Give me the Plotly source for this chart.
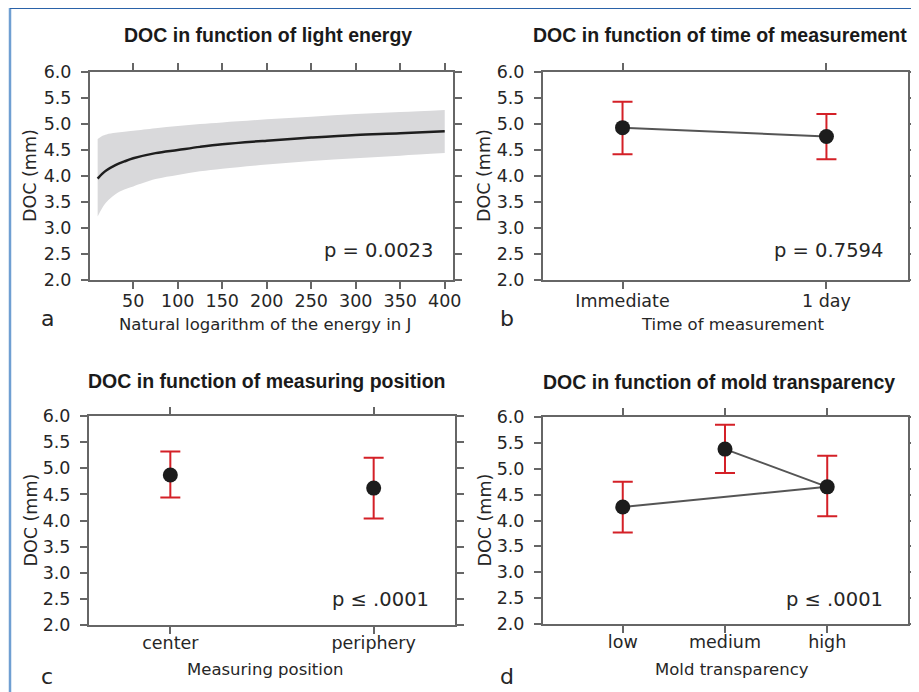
import plotly.graph_objects as go

# page offset (browser body margin) compensation
OFF = 8
W, H = 919 - OFF, 692 - OFF

# ---- data ----
energy = [10, 15, 20, 30, 40, 50, 75, 100, 125, 150, 200, 250, 300, 350, 400]
doc_fit = [3.95, 4.04, 4.11, 4.21, 4.28, 4.34, 4.44, 4.50, 4.56, 4.61, 4.68, 4.74, 4.79, 4.82, 4.86]
doc_upper = [4.71, 4.77, 4.80, 4.83, 4.85, 4.87, 4.92, 4.96, 5.00, 5.03, 5.09, 5.14, 5.19, 5.23, 5.27]
doc_lower = [3.22, 3.38, 3.50, 3.65, 3.74, 3.80, 3.94, 4.02, 4.09, 4.14, 4.22, 4.29, 4.34, 4.39, 4.44]

time_cats = ["Immediate", "1 day"]
time_mean = [4.93, 4.76]
time_hi = [5.43, 5.19]
time_lo = [4.42, 4.32]

pos_cats = ["center", "periphery"]
pos_mean = [4.87, 4.62]
pos_hi = [5.32, 5.20]
pos_lo = [4.44, 4.04]

mold_order = ["low", "medium", "high"]
mold_plot_cats = ["low", "high", "medium"]
mold_mean = [4.26, 4.65, 5.38]
mold_hi = [4.75, 5.25, 5.85]
mold_lo = [3.77, 4.08, 4.92]

titles = ["DOC in function of light energy", "DOC in function of time of measurement",
          "DOC in function of measuring position", "DOC in function of mold transparency"]
xtitles = ["Natural logarithm of the energy in J", "Time of measurement",
           "Measuring position", "Mold transparency"]
pvals = ["p = 0.0023", "p = 0.7594", "p ≤ .0001", "p ≤ .0001"]
letters = ["a", "b", "c", "d"]


# ---- layout geometry (reference pixels) ----
def px_x(x):
    return (x - OFF) / W


def px_y(y):
    return 1 - (y - OFF) / H


panels = {
    1: dict(x0=90, x1=453, y0=72, y1=280),
    2: dict(x0=543, x1=908, y0=72, y1=280),
    3: dict(x0=89, x1=455, y0=416, y1=625),
    4: dict(x0=543, x1=908, y0=417, y1=624),
}

fig = go.Figure()

ERR = "#d42027"
DOT = "#1c1c1c"
LINE = "#555555"

# panel a
fig.add_trace(go.Scatter(x=energy, y=doc_upper, mode="lines", line=dict(width=0, shape="spline", smoothing=1.0),
                         xaxis="x", yaxis="y", showlegend=False, hoverinfo="skip"))
fig.add_trace(go.Scatter(x=energy, y=doc_lower, mode="lines", line=dict(width=0, shape="spline", smoothing=1.0),
                         fill="tonexty", fillcolor="#d9d9db",
                         xaxis="x", yaxis="y", showlegend=False, hoverinfo="skip"))
fig.add_trace(go.Scatter(x=energy, y=doc_fit, mode="lines",
                         line=dict(color="#1e1e1e", width=2.5, shape="spline", smoothing=1.0),
                         xaxis="x", yaxis="y", showlegend=False))


def err_trace(cats, mean, hi, lo, ax, mode):
    return go.Scatter(
        x=cats, y=mean, mode=mode,
        line=dict(color=LINE, width=2),
        marker=dict(color=DOT, size=15),
        error_y=dict(type="data", symmetric=False,
                     array=[h - m for h, m in zip(hi, mean)],
                     arrayminus=[m - l for m, l in zip(mean, lo)],
                     color=ERR, thickness=2, width=10),
        xaxis="x" + ax, yaxis="y" + ax, showlegend=False)


fig.add_trace(err_trace(time_cats, time_mean, time_hi, time_lo, "2", "lines+markers"))
fig.add_trace(err_trace(pos_cats, pos_mean, pos_hi, pos_lo, "3", "markers"))
fig.add_trace(err_trace(mold_plot_cats, mold_mean, mold_hi, mold_lo, "4", "lines+markers"))

AX = "#666666"
common = dict(showline=True, linecolor=AX, linewidth=2, mirror="allticks", ticks="outside",
              ticklen=7, tickwidth=1.5, tickcolor=AX, showgrid=False, zeroline=False,
              automargin=False,
              tickfont=dict(family="DejaVu Sans", size=17.5, color="#262626"))

xranges = {1: [1.4, 409.3], 2: [-0.39, 1.40], 3: [-0.40, 1.40], 4: [-0.78, 2.79]}
layout = {}
for i, p in panels.items():
    s = "" if i == 1 else str(i)
    xa = dict(common, domain=[px_x(p["x0"]), px_x(p["x1"])], anchor="y" + s,
              range=xranges[i], ticklabelstandoff=-3 if i <= 2 else -6)
    if i == 1:
        xa.update(tickmode="array", tickvals=[50, 100, 150, 200, 250, 300, 350, 400])
    elif i == 4:
        xa.update(type="category", categoryorder="array", categoryarray=mold_order)
    else:
        xa.update(type="category")
    ya = dict(common, domain=[px_y(p["y1"]), px_y(p["y0"])], anchor="x" + s,
              range=[2, 6], tickmode="linear", tick0=2, dtick=0.5, tickformat=".1f",
              ticklabelstandoff=6)
    layout["xaxis" + s] = xa
    layout["yaxis" + s] = ya

fig.update_layout(**layout)

annotations = []
TXT = "#262626"
title_pos = [(268, 35), (720, 35), (266, 381), (719, 382)]
xt_pos = [(265, 324), (732, 324), (265, 669), (732, 669)]
yt_x = [30, 484, 30, 484]
letter_pos = [(47, 318), (507, 318), (47, 676), (507, 676)]
pv_pos = [(435, 250), (885, 250), (431, 599), (885, 599)]
for i in range(4):
    p = panels[i + 1]
    annotations.append(dict(text="<b>" + titles[i] + "</b>", x=px_x(title_pos[i][0]), y=px_y(title_pos[i][1]),
                            xref="paper", yref="paper", showarrow=False, xanchor="center", yanchor="middle",
                            font=dict(family="Liberation Sans", size=19.5, color="#1a1a1a")))
    annotations.append(dict(text=xtitles[i], x=px_x(xt_pos[i][0]), y=px_y(xt_pos[i][1]),
                            xref="paper", yref="paper", showarrow=False, xanchor="center", yanchor="middle",
                            font=dict(family="DejaVu Sans", size=16.5, color=TXT)))
    annotations.append(dict(text="DOC (mm)", x=px_x(yt_x[i]), y=px_y((p["y0"] + p["y1"]) / 2),
                            xref="paper", yref="paper", showarrow=False, xanchor="center", yanchor="middle",
                            textangle=-90, font=dict(family="DejaVu Sans", size=17.5, color=TXT)))
    annotations.append(dict(text=letters[i], x=px_x(letter_pos[i][0]), y=px_y(letter_pos[i][1]),
                            xref="paper", yref="paper", showarrow=False, xanchor="center", yanchor="middle",
                            font=dict(family="DejaVu Sans", size=22, color=TXT)))
    annotations.append(dict(text=pvals[i], x=px_x(pv_pos[i][0]), y=px_y(pv_pos[i][1]),
                            xref="paper", yref="paper", showarrow=False, xanchor="right", yanchor="middle",
                            font=dict(family="DejaVu Sans", size=19.5, color=TXT)))

shapes = [
    dict(type="line", xref="paper", yref="paper", x0=px_x(10), x1=px_x(10), y0=px_y(8), y1=0,
         line=dict(color="#6f9fd2", width=2.5)),
    dict(type="line", xref="paper", yref="paper", x0=px_x(10), x1=px_x(913), y0=px_y(8), y1=px_y(8),
         line=dict(color="#2a62a8", width=2)),
    dict(type="line", xref="paper", yref="paper", x0=px_x(913), x1=px_x(913), y0=px_y(8), y1=0,
         line=dict(color="#2a62a8", width=2)),
]

fig.update_layout(width=W, height=H, margin=dict(l=0, r=0, t=0, b=0, autoexpand=False),
                  paper_bgcolor="white", plot_bgcolor="white",
                  annotations=annotations, shapes=shapes, showlegend=False)

fig.write_html("out.html")
